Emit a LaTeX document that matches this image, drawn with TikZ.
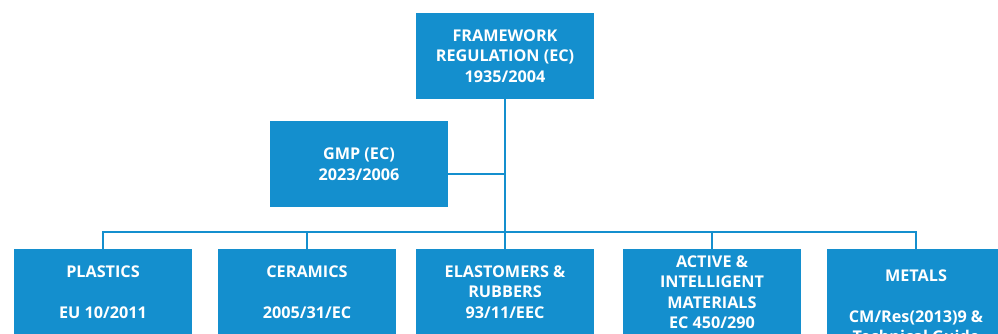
\documentclass[tikz,border=0pt]{standalone}
\usepackage{fontspec}
\setmainfont{Open Sans}
\definecolor{boxblue}{RGB}{20,143,206}
\begin{document}
\begin{tikzpicture}[x=1pt,y=-1pt,
  box/.style={fill=boxblue, draw=none, minimum width=178pt, minimum height=86pt, inner sep=0pt,
    text=white, font=\bfseries\fontsize{16.2}{20.5}\selectfont, align=center},
  txt/.style={text=white, font=\bfseries\fontsize{16.2}{20.5}\selectfont, align=center, inner sep=0pt},
  link/.style={draw=boxblue, line width=2pt}]
\useasboundingbox (0,0) rectangle (998,333);
\clip (0,0) rectangle (998,333);
\node[box] (fw) at (505,56) {FRAMEWORK\\REGULATION (EC)\\1935/2004};
\node[box] (gmp) at (359,164) {GMP (EC)\\2023/2006};
\node[box] (pl) at (103,292) {PLASTICS\\[20.5pt]EU 10/2011};
\node[box] (ce) at (307,292) {CERAMICS\\[20.5pt]2005/31/EC};
\node[box] (el) at (505,292) {ELASTOMERS \&\\RUBBERS\\93/11/EEC};
\node[box] (ac) at (712,292) {ACTIVE \&\\INTELLIGENT\\MATERIALS\\EC 450/290};
\node[box] (me) at (916,292) {};
\node[txt] (meT) at ([yshift=-14pt]me.center) {METALS\\[20.5pt]CM/Res(2013)9 \&\\Technical Guide};
\coordinate (bus) at (505,232);
\coordinate (gj) at (505,174);
\draw[link] (fw.south) -- (bus);
\draw[link] (gmp.east |- gj) -- (gj);
\draw[link] (pl.north) |- (bus) -| (me.north);
\draw[link] (ce.north) -- (ce.north |- bus);
\draw[link] (el.north) -- (bus);
\draw[link] (ac.north) -- (ac.north |- bus);
\end{tikzpicture}
\end{document}
